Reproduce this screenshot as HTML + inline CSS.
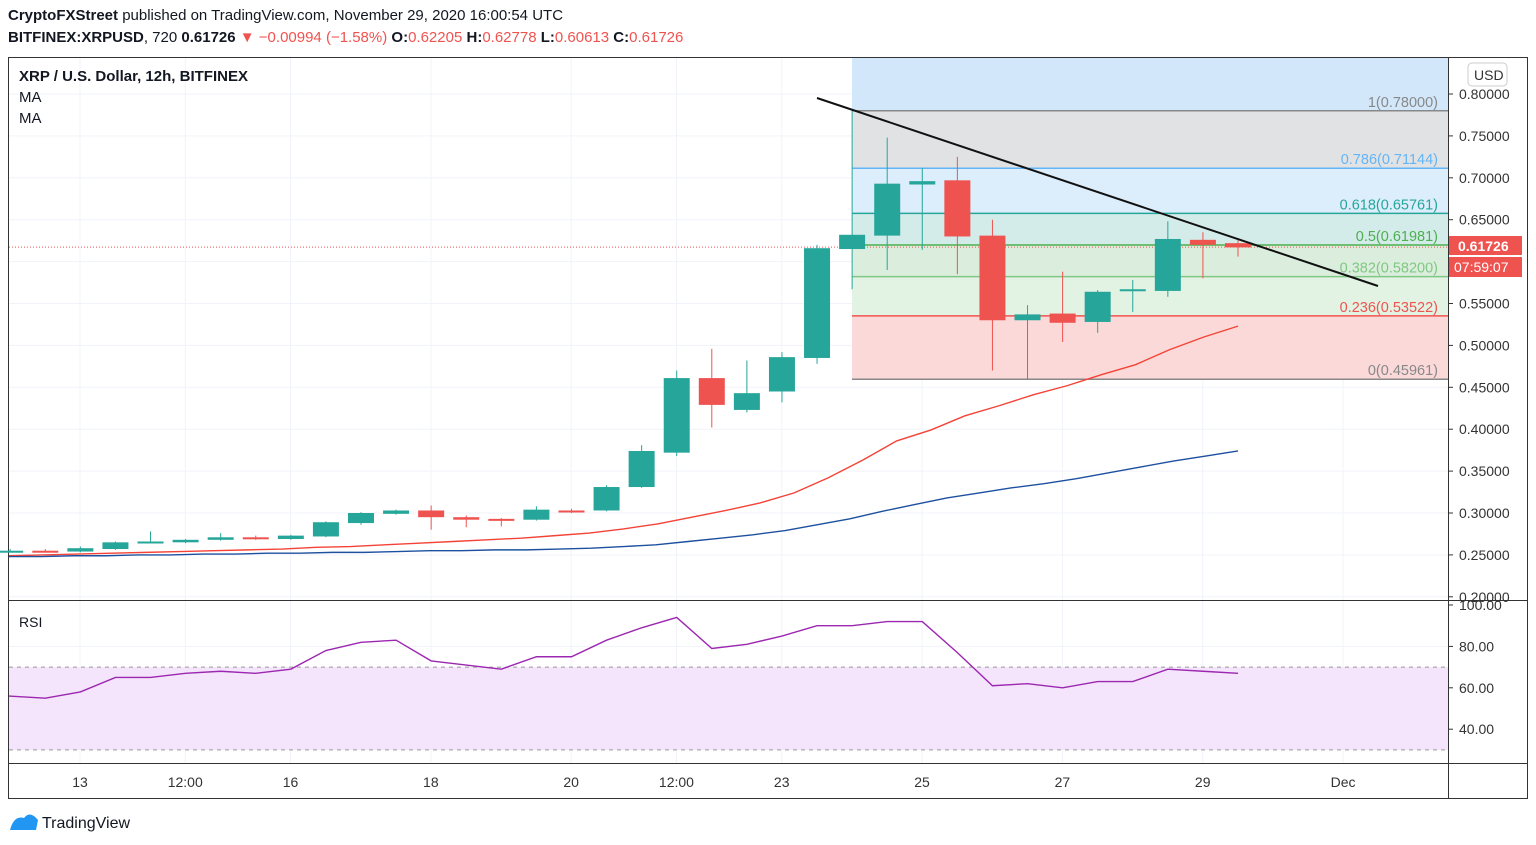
<!DOCTYPE html>
<html><head><meta charset="utf-8"><style>
body{margin:0;background:#fff;width:1536px;height:845px;overflow:hidden;font-family:"Liberation Sans",sans-serif}
.hdr{position:absolute;left:8px;font-size:15px;color:#131722}
</style></head><body>
<div class="hdr" style="top:7px"><b>CryptoFXStreet</b> published on TradingView.com, November 29, 2020 16:00:54 UTC</div>
<div class="hdr" style="top:29px"><b>BITFINEX:XRPUSD</b>, 720 <b>0.61726</b> <span style="color:#ef5350">▼ −0.00994 (−1.58%)</span> <b>O:</b><span style="color:#ef5350">0.62205</span> <b>H:</b><span style="color:#ef5350">0.62778</span> <b>L:</b><span style="color:#ef5350">0.60613</span> <b>C:</b><span style="color:#ef5350">0.61726</span></div>
<svg id="c" width="1536" height="845" style="position:absolute;left:0;top:0"></svg>
<script>
const opens=[0.255,0.255,0.254,0.257,0.266,0.265,0.268,0.271,0.269,0.272,0.288,0.299,0.303,0.295,0.293,0.292,0.303,0.303,0.331,0.372,0.461,0.423,0.445,0.485,0.615,0.631,0.692,0.697,0.631,0.530,0.538,0.528,0.565,0.565,0.626,0.622];
const highs=[0.257,0.257,0.260,0.266,0.278,0.269,0.276,0.273,0.274,0.290,0.301,0.304,0.309,0.297,0.294,0.308,0.305,0.333,0.381,0.470,0.496,0.482,0.492,0.620,0.780,0.748,0.712,0.725,0.650,0.548,0.588,0.566,0.578,0.648,0.635,0.628];
const lows=[0.253,0.253,0.253,0.256,0.264,0.264,0.267,0.268,0.268,0.271,0.286,0.298,0.280,0.283,0.284,0.291,0.300,0.302,0.330,0.368,0.402,0.420,0.432,0.478,0.567,0.590,0.614,0.585,0.470,0.460,0.504,0.515,0.540,0.558,0.580,0.606];
const closes=[0.255,0.254,0.258,0.265,0.266,0.268,0.271,0.269,0.273,0.289,0.300,0.303,0.295,0.292,0.291,0.304,0.302,0.331,0.374,0.461,0.429,0.443,0.486,0.616,0.632,0.693,0.696,0.630,0.530,0.537,0.527,0.564,0.567,0.627,0.620,0.617];
const maFast=[0.249,0.250,0.251,0.252,0.253,0.254,0.255,0.256,0.257,0.259,0.260,0.262,0.264,0.266,0.268,0.270,0.273,0.276,0.281,0.287,0.295,0.303,0.312,0.324,0.342,0.363,0.386,0.399,0.416,0.428,0.441,0.452,0.465,0.477,0.495,0.510,0.523];
const maSlow=[0.248,0.248,0.249,0.249,0.250,0.250,0.251,0.251,0.252,0.252,0.253,0.253,0.254,0.255,0.255,0.256,0.256,0.257,0.258,0.260,0.262,0.266,0.270,0.274,0.279,0.286,0.293,0.302,0.310,0.318,0.324,0.330,0.335,0.341,0.348,0.355,0.362,0.368,0.374];
const rsi=[56,55,58,65,65,67,68,67,69,78,82,83,73,71,69,75,75,83,89,94,79,81,85,90,90,92,92,77,61,62,60,63,63,69,68,67];
const priceTicks=[0.8,0.75,0.7,0.65,0.6,0.55,0.5,0.45,0.4,0.35,0.3,0.25,0.2];
const rsiTicks=[100,80,60,40];
const dateLabels=["13","12:00","16","18","20","12:00","23","25","27","29","Dec"];
const dateDays=[13,14.5,16,18,20,21.5,23,25,27,29,31];
const fibLevels=[1,0.786,0.618,0.5,0.382,0.236,0];
const fibHigh=0.78, fibLow=0.45961;

const NS="http://www.w3.org/2000/svg",svg=document.getElementById('c');
function el(t,a,p){const e=document.createElementNS(NS,t);for(const k in a)e.setAttribute(k,a[k]);(p||svg).appendChild(e);return e;}
const py=p=>94+(0.8-p)*838;
const ry=v=>605+(100-v)*2.07;
const N=opens.length;
const cx=i=>1238-35.08*(N-1-i);
const dx=d=>80+(d-13)*70.17;
el('rect',{x:8.5,y:57.5,width:1519,height:741,fill:'#fff',stroke:'#333'});
priceTicks.forEach(p=>{el('line',{x1:9,x2:1448,y1:py(p),y2:py(p),stroke:'#f0f3fa'});});
[80,60,40].forEach(v=>el('line',{x1:9,x2:1448,y1:ry(v),y2:ry(v),stroke:'#f0f3fa'}));
dateDays.forEach(d=>{el('line',{x1:dx(d),x2:dx(d),y1:58,y2:763,stroke:'#f0f3fa'});});
const fy=l=>py(fibLow+(fibHigh-fibLow)*l);
const fills=['#e1e2e4','#dcedfb','#d4ece9','#dbeedd','#e3f3e3','#fbd9d9'];
const fcols=['#888','#64b5f6','#26a69a','#4caf50','#81c784','#ef5350','#888'];
el('rect',{x:852,y:58,width:596,height:fy(1)-58,fill:'#d3e7fa'});
for(let i=0;i<6;i++){const r=el('rect',{x:852,y:fy(fibLevels[i]),width:596,height:fy(fibLevels[i+1])-fy(fibLevels[i]),fill:fills[i]});
}
fibLevels.forEach((l,i)=>{const y=fy(l);
const ln=el('line',{x1:852,x2:1448,y1:y,y2:y,stroke:fcols[i],'stroke-width':1.5});

const t=el('text',{x:1438,y:y-4,'text-anchor':'end','font-size':14.5,fill:fcols[i]});
t.textContent=l+'('+(fibLow+(fibHigh-fibLow)*l).toFixed(5)+')';
});
el('line',{x1:9,x2:1448,y1:py(0.61726),y2:py(0.61726),stroke:'#ef5350','stroke-dasharray':'1,2'});
function maPath(arr,col,name){const step=(1238-9)/(arr.length-1);let d='';arr.forEach((v,i)=>{d+=(i?'L':'M')+(9+i*step)+','+py(v);});
const p=el('path',{d,fill:'none',stroke:col,'stroke-width':1.4});}
maPath(maFast,'#f44336','ma-fast-line');maPath(maSlow,'#1e50a0','ma-slow-line');
for(let i=0;i<N;i++){const up=closes[i]>=opens[i],c=up?'#26a69a':'#ef5350',x=cx(i);
const w=el('line',{x1:x,x2:x,y1:py(highs[i]),y2:py(lows[i]),stroke:c});
const t=py(Math.max(opens[i],closes[i])),b=py(Math.min(opens[i],closes[i]));
const r=el('rect',{x:x-13,y:t,width:26,height:Math.max(2,b-t),fill:c});}
const tl=el('line',{x1:817,y1:98,x2:1378,y2:286,stroke:'#111','stroke-width':2});
el('line',{x1:9,x2:1528,y1:600.5,y2:600.5,stroke:'#333'});
el('line',{x1:9,x2:1528,y1:763.5,y2:763.5,stroke:'#333'});
el('line',{x1:1448.5,x2:1448.5,y1:58,y2:798,stroke:'#333'});
priceTicks.forEach(p=>{el('line',{x1:1448,x2:1453,y1:py(p),y2:py(p),stroke:'#333'});
const t=el('text',{x:1459,y:py(p)+5,'font-size':14,fill:'#333'});t.textContent=p.toFixed(5);});
el('rect',{x:1449,y:236,width:73,height:19,fill:'#ef5350'});
let t=el('text',{x:1458,y:251,'font-size':14,fill:'#fff','font-weight':'bold'});t.textContent='0.61726';
el('rect',{x:1449,y:257,width:73,height:20,fill:'#ef5350'});
t=el('text',{x:1454,y:272,'font-size':14,fill:'#fff'});t.textContent='07:59:07';
el('rect',{x:1468,y:63,width:39,height:23,rx:4,fill:'#fff',stroke:'#ccc'});
t=el('text',{x:1474,y:80,'font-size':14,fill:'#333'});t.textContent='USD';
el('rect',{x:9,y:ry(70),width:1439,height:ry(30)-ry(70),fill:'#f4e5fc'});
[70,30].forEach(v=>el('line',{x1:9,x2:1448,y1:ry(v),y2:ry(v),stroke:'#999','stroke-dasharray':'4,4'}));
let d='';rsi.forEach((v,i)=>{d+=(i?'L':'M')+(i==0?9:cx(i))+','+ry(v);});
const rp=el('path',{d,fill:'none',stroke:'#9c27b0','stroke-width':1.4});
rsiTicks.forEach(v=>{el('line',{x1:1448,x2:1453,y1:ry(v),y2:ry(v),stroke:'#333'});
const t=el('text',{x:1459,y:ry(v)+5,'font-size':14,fill:'#333'});t.textContent=v.toFixed(2);});
dateLabels.forEach((s,i)=>{const t=el('text',{x:dx(dateDays[i]),y:787,'font-size':14,fill:'#333','text-anchor':'middle'});t.textContent=s;});
[['XRP / U.S. Dollar, 12h, BITFINEX',81,'bold',15],['MA',102,'normal',15],['MA',123,'normal',15],['RSI',627,'normal',14]].forEach(a=>{const t=el('text',{x:19,y:a[1],'font-size':a[3],'font-weight':a[2],fill:'#131722'});t.textContent=a[0];});
el('path',{d:'M10,830 Q14,815 24,818 Q30,810 38,820 L36,830 Z',fill:'#2196f3'});
t=el('text',{x:42,y:828,'font-size':16,fill:'#131722'});t.textContent='TradingView';
</script></body></html>
